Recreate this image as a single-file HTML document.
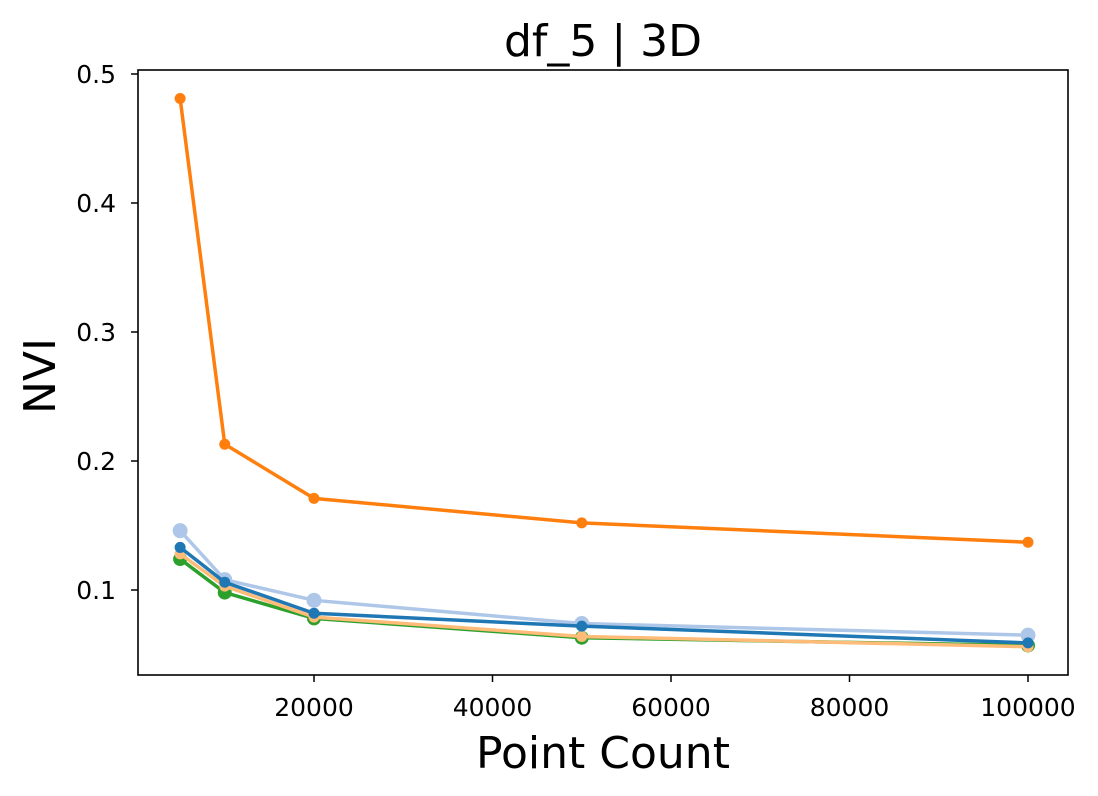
<!DOCTYPE html>
<html><head><meta charset="utf-8"><style>
body{margin:0;background:#fff;}
svg{display:block;font-family:"DejaVu Sans","Liberation Sans",sans-serif;}
</style></head><body>
<svg id="chart" width="1098" height="796" viewBox="0 0 1098 796">
<text x="603" y="56" font-size="44" text-anchor="middle">df_5 | 3D</text>
<text x="603" y="768" font-size="44" text-anchor="middle">Point Count</text>
<text transform="translate(55,376) rotate(-90)" font-size="44" text-anchor="middle">NVI</text>
<g id="plot"></g>
<rect x="138" y="70" width="930" height="605" fill="none" stroke="#000" stroke-width="1.6"/>
</svg>
<script>
const xValues=[5000,10000,20000,50000,100000];
const xTicks=[20000,40000,60000,80000,100000];
const yTicks=[0.1,0.2,0.3,0.4,0.5];
const seriesNames=['light-blue','green','light-orange','blue','orange'];
const lightBlue=[0.146,0.108,0.092,0.074,0.065];
const green=[0.124,0.098,0.078,0.063,0.057];
const lightOrange=[0.128,0.103,0.079,0.064,0.056];
const blue=[0.133,0.106,0.082,0.072,0.059];
const orange=[0.481,0.213,0.171,0.152,0.137];
const seriesValues=[lightBlue,green,lightOrange,blue,orange];
const colors=['#aec7e8','#2ca02c','#ffbb78','#1f77b4','#ff7f0e'];
const radii=[7.5,7,5.5,5.5,5.5];
const xs=v=>135.5+v*0.008925;
const ys=v=>590-(v-0.1)*1290;
const NS='http://www.w3.org/2000/svg';
const svg=document.getElementById('chart');
const plot=document.getElementById('plot');
function mk(t,a,p){const e=document.createElementNS(NS,t);for(const k in a)e.setAttribute(k,a[k]);(p||plot).appendChild(e);return e;}
xTicks.forEach(t=>{
 const l=mk('line',{x1:xs(t),x2:xs(t),y1:675,y2:682,stroke:'#000','stroke-width':1.5},svg);
 
 
 const tx=mk('text',{x:xs(t),y:716,'font-size':25,'text-anchor':'middle'},svg);
 tx.textContent=t;
 
 
});
yTicks.forEach(t=>{
 const l=mk('line',{x1:131,x2:138,y1:ys(t),y2:ys(t),stroke:'#000','stroke-width':1.5},svg);
 
 
 const tx=mk('text',{x:116,y:ys(t)+9,'font-size':25,'text-anchor':'end'},svg);
 tx.textContent=t.toFixed(1);
 
 
});
seriesValues.forEach((vals,i)=>{
 const g=mk('g',{});
 
 
 const pl=mk('polyline',{points:vals.map((v,j)=>xs(xValues[j])+','+ys(v)).join(' '),fill:'none',stroke:colors[i],'stroke-width':3.5},g);
 
 
 vals.forEach((v,j)=>{
  const c=mk('circle',{cx:xs(xValues[j]),cy:ys(v),r:radii[i],fill:colors[i]},g);
  
  
 });
});
</script>
</body></html>
